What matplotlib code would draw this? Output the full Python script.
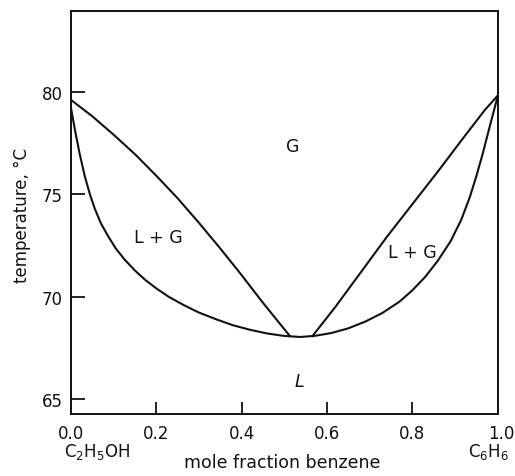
import matplotlib
matplotlib.use("Agg")
import matplotlib.pyplot as plt
import matplotlib.transforms as mtransforms

plt.rcParams['font.family'] = ['DejaVu Sans']
plt.rcParams['mathtext.default'] = 'regular'

# curva de burbuja (liquido) etanol-benceno
x_liq = [0.0, 0.01, 0.02, 0.032, 0.045, 0.056, 0.07, 0.087, 0.105, 0.126,
         0.15, 0.175, 0.20, 0.23, 0.263, 0.30, 0.342, 0.38, 0.42, 0.46,
         0.50, 0.537, 0.57, 0.61, 0.65, 0.69, 0.73, 0.77, 0.80, 0.83,
         0.86, 0.89, 0.915, 0.935, 0.95, 0.965, 0.978, 0.99, 1.0]
t_liq = [79.2, 78.05, 77.0, 75.9, 74.95, 74.28, 73.58, 72.95, 72.35, 71.8,
         71.27, 70.8, 70.4, 69.98, 69.6, 69.22, 68.88, 68.6, 68.38, 68.2,
         68.08, 68.03, 68.08, 68.22, 68.45, 68.78, 69.2, 69.75, 70.3, 70.95,
         71.75, 72.7, 73.75, 74.85, 75.85, 76.95, 78.0, 78.95, 79.75]

# curva de rocio (vapor), rama del etanol
x_vap_izq = [0.0, 0.05, 0.10, 0.15, 0.20, 0.25, 0.30, 0.35, 0.40, 0.45, 0.513]
t_vap_izq = [79.6, 78.8, 77.9, 76.95, 75.9, 74.8, 73.6, 72.35, 71.05, 69.7, 68.08]

# curva de rocio, rama del benceno
x_vap_der = [0.566, 0.62, 0.68, 0.74, 0.80, 0.86, 0.92, 0.97, 1.0]
t_vap_der = [68.07, 69.5, 71.2, 72.9, 74.5, 76.1, 77.75, 79.1, 79.8]

ticks_x = [0.0, 0.2, 0.4, 0.6, 0.8, 1.0]
ticks_t = [65, 70, 75, 80]

# etiquetas de las regiones del diagrama
regiones = [("G", 0.52, 77.35, 'normal'),
            ("L + G", 0.204, 72.9, 'normal'),
            ("L + G", 0.80, 72.16, 'normal'),
            ("L", 0.535, 65.88, 'italic')]

fig = plt.figure(figsize=(5.15, 4.77), dpi=100)
ax = fig.add_axes([71 / 515, 62 / 477, 426.5 / 515, 403 / 477])

negro = '#111111'
ax.plot(x_liq, t_liq, color=negro, lw=1.5)
ax.plot(x_vap_izq, t_vap_izq, color=negro, lw=1.5)
ax.plot(x_vap_der, t_vap_der, color=negro, lw=1.5)

ax.set_xlim(0, 1)
ax.set_ylim(64.27, 83.94)
ax.set_xticks(ticks_x)
ax.set_xticklabels([f"{v:.1f}" for v in ticks_x])
ax.set_yticks(ticks_t)

for s in ax.spines.values():
    s.set_linewidth(1.4)
    s.set_color(negro)

ax.tick_params(axis='y', direction='in', length=10, width=1.3, pad=6,
               labelsize=12, colors=negro)
ax.tick_params(axis='x', direction='in', length=8.5, width=1.3, pad=7,
               labelsize=12, colors=negro)
# el 0.0 y el 1.0 caen sobre las esquinas, sin marca
ax.xaxis.get_major_ticks()[0].tick1line.set_visible(False)
ax.xaxis.get_major_ticks()[-1].tick1line.set_visible(False)

# el 1.0 un poco corrido a la derecha
corrimiento = mtransforms.ScaledTranslation(4 / 100, 0, fig.dpi_scale_trans)
ultimo = ax.get_xticklabels()[-1]
ultimo.set_transform(ultimo.get_transform() + corrimiento)

for texto, xx, tt, estilo in regiones:
    ax.text(xx, tt, texto, ha='center', va='center', fontsize=12.5,
            style=estilo, color=negro)

ax.set_ylabel("temperature, °C", fontsize=12, color=negro)
ax.yaxis.set_label_coords(-0.093, 0.494)
ax.set_xlabel("mole fraction benzene", fontsize=12.5, color=negro)
ax.xaxis.set_label_coords(0.495, -0.098)

ax.text(0.061, -0.093, "C$_2$H$_5$OH", transform=ax.transAxes,
        ha='center', va='center', fontsize=12, color=negro)
ax.text(0.979, -0.093, "C$_6$H$_6$", transform=ax.transAxes,
        ha='center', va='center', fontsize=12, color=negro)

fig.savefig("out.png", dpi=100)
